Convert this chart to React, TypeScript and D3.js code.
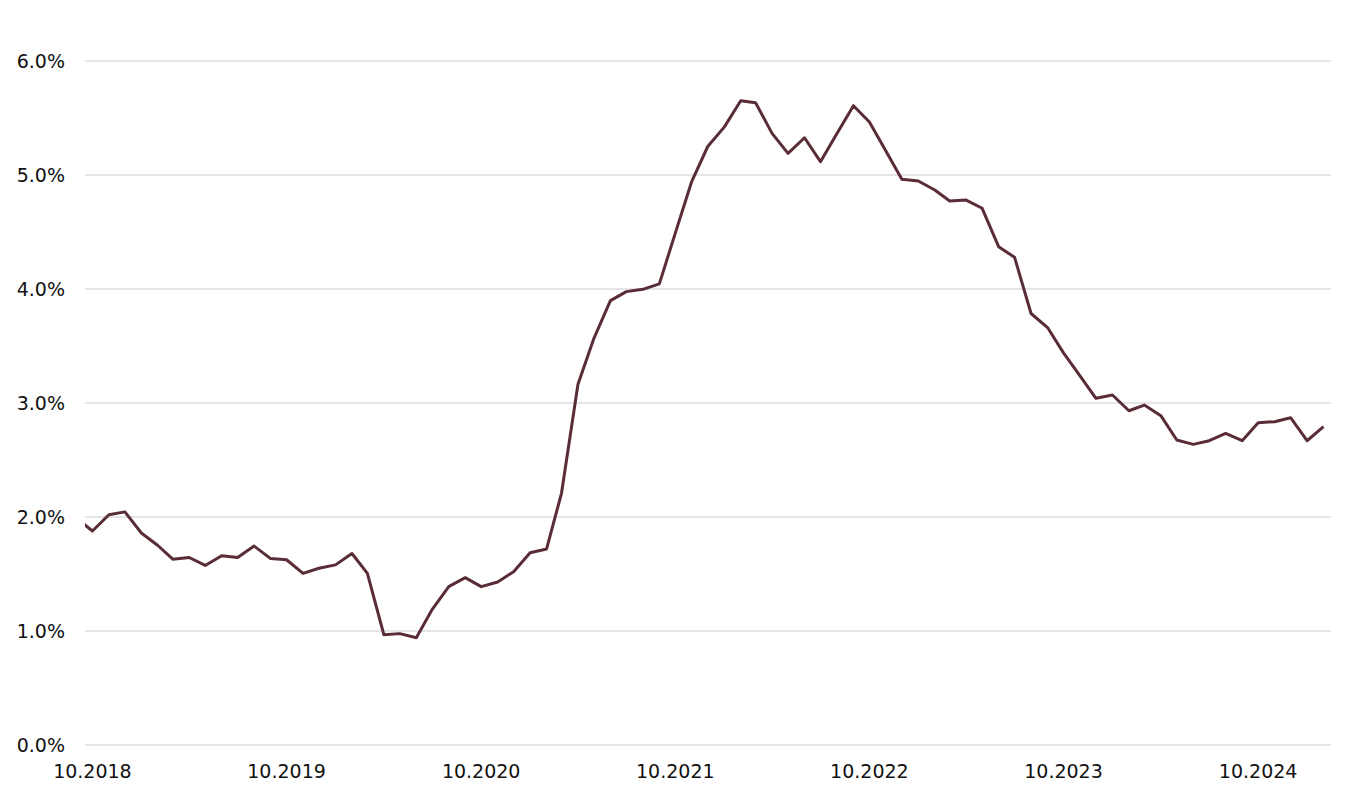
import React from "react";
import * as d3 from "d3";

// Monthly values (%), starting September 2018 (first point lies left of the visible plot and is clipped)
const startYear = 2018;
const startMonth = 8; // September (0-based)
const values: number[] = [
  1.99, // 09.2018
  1.877, 2.02, 2.045, // 10-12.2018
  1.86, 1.75, 1.63, 1.645, 1.575, 1.66, 1.645, 1.745, 1.635, 1.625, 1.505, 1.55, // 2019
  1.58, 1.68, 1.505, 0.967, 0.977, 0.941, 1.19, 1.389, 1.468, 1.389, 1.43, 1.52, // 2020
  1.687, 1.72, 2.208, 3.165, 3.567, 3.898, 3.977, 3.997, 4.045, 4.49, 4.945, 5.25, // 2021
  5.42, 5.652, 5.634, 5.365, 5.19, 5.327, 5.117, 5.365, 5.608, 5.465, 5.21, 4.962, // 2022
  4.947, 4.868, 4.772, 4.78, 4.708, 4.371, 4.278, 3.785, 3.662, 3.44, 3.237, 3.041, // 2023
  3.07, 2.932, 2.982, 2.889, 2.675, 2.637, 2.669, 2.734, 2.669, 2.827, 2.836, 2.871, // 2024
  2.669, 2.792, // 2025
];

const yTicks: number[] = [0, 1, 2, 3, 4, 5, 6];
const xTickYears: number[] = [2018, 2019, 2020, 2021, 2022, 2023, 2024];
const xTickMonth = 9; // October

const W = 1368;
const H = 800;
const left = 85;
const right = 1331;
const top = 61;
const bottom = 745;
const FONT = "'DejaVu Sans', sans-serif";

export default function App() {
  const data = values.map((v, i) => ({
    date: new Date(startYear, startMonth + i, 15),
    value: v,
  }));

  const x = d3
    .scaleTime()
    .domain([new Date(2018, 9, 1), new Date(2025, 2, 1)])
    .range([left, right]);
  const y = d3.scaleLinear().domain([0, 6]).range([bottom, top]);

  const line = d3
    .line<{ date: Date; value: number }>()
    .x((d) => x(d.date))
    .y((d) => y(d.value));

  return (
    <svg
      width={W}
      height={H}
      style={{ position: "absolute", left: 0, top: 0, background: "#fff" }}
    >
      <defs>
        <clipPath id="plotClip">
          <rect x={left} y={0} width={right - left} height={H} />
        </clipPath>
      </defs>
      {yTicks.map((t) => (
        <g key={t}>
          <line
            x1={left}
            x2={right}
            y1={y(t)}
            y2={y(t)}
            stroke="#dcdce0"
            strokeWidth={1.6}
          />
          <text
            x={65}
            y={y(t) + 7}
            textAnchor="end"
            fontFamily={FONT}
            fontSize={19}
            fill="#111"
          >
            {t.toFixed(1) + "%"}
          </text>
        </g>
      ))}
      {xTickYears.map((yr) => {
        const d = new Date(yr, xTickMonth, 15);
        return (
          <text
            key={yr}
            x={x(d)}
            y={778}
            textAnchor="middle"
            fontFamily={FONT}
            fontSize={19}
            fill="#111"
          >
            {"10." + yr}
          </text>
        );
      })}
      <path
        d={line(data) || ""}
        fill="none"
        stroke="#5a2d36"
        strokeWidth={3}
        strokeLinejoin="round"
        clipPath="url(#plotClip)"
      />
    </svg>
  );
}
